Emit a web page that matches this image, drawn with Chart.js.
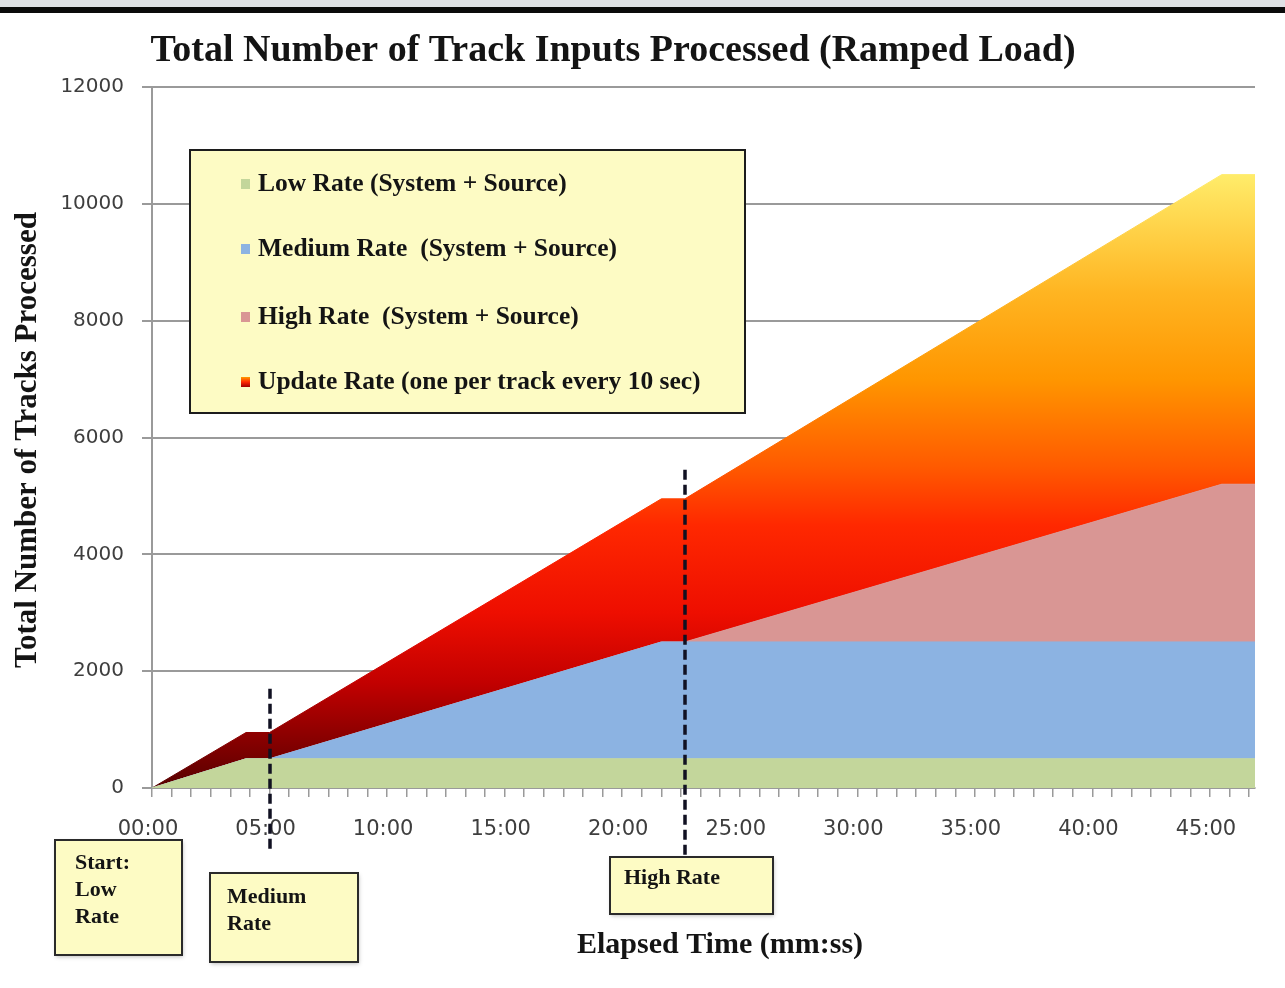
<!DOCTYPE html>
<html>
<head>
<meta charset="utf-8">
<script src="https://cdn.jsdelivr.net/npm/chart.js@4/dist/chart.umd.min.js"></script>
<style>
  html, body { margin: 0; padding: 0; background: #ffffff; overflow: hidden; }
  canvas { display: block; }
</style>
</head>
<body>
<canvas id="chart" width="1285" height="988"></canvas>
<script>
// Elapsed time of each breakpoint, in seconds
const elapsedSeconds = [0, 240, 300, 1300, 1360, 2730, 2815];

// Tracks processed per layer (stacked)
const lowRate    = [0, 500, 500,  500,  500,  500,  500];
const mediumRate = [0,   0,   0, 2000, 2000, 2000, 2000];
const highRate   = [0,   0,   0,    0,    0, 2700, 2700];
const updateRate = [0, 450, 450, 2450, 2450, 5300, 5300];

const seriesLabels = [
  'Low Rate (System + Source)',
  'Medium Rate  (System + Source)',
  'High Rate  (System + Source)',
  'Update Rate (one per track every 10 sec)'
];

// Axis ticks
const yTickValues = [0, 2000, 4000, 6000, 8000, 10000, 12000];
const xLabelSeconds = [0, 300, 600, 900, 1200, 1500, 1800, 2100, 2400, 2700];

// Phase changes marked on the time axis
const phaseStarts = [300, 1360];
const phaseNotes = [
  { lines: ['Start:', 'Low', 'Rate'] },
  { lines: ['Medium', 'Rate'] },
  { lines: ['High Rate'] }
];

const SERIF = '"Liberation Serif", "Times New Roman", serif';
const fillColors = ['#c3d69b', '#8cb3e2', '#d99694'];

// colour stops of the update layer, by tracks count
const updateStops = [
  [0, '#560000'], [800, '#860000'], [1800, '#c20000'], [3000, '#ee0e00'],
  [4500, '#ff2800'], [5500, '#ff5a00'], [7000, '#ff9600'], [8500, '#ffb522'],
  [10500, '#ffec6a']
];

function mmss(s) {
  const m = Math.floor(s / 60), r = s % 60;
  return String(m).padStart(2, '0') + ':' + String(r).padStart(2, '0');
}

function updateGradient(chart) {
  const y = chart.scales.y;
  const y0 = y.getPixelForValue(0);
  const y1 = y.getPixelForValue(10500);
  const g = chart.ctx.createLinearGradient(0, y0, 0, y1);
  updateStops.forEach(([v, c]) => g.addColorStop(v / 10500, c));
  return g;
}

function layerColor(i) {
  return (ctx) => {
    if (i < 3) return fillColors[i];
    const chart = ctx.chart;
    if (!chart.chartArea) return '#ff3000';
    return updateGradient(chart);
  };
}

const toPoints = vals => elapsedSeconds.map((t, i) => ({ x: t, y: vals[i] }));
const layers = [lowRate, mediumRate, highRate, updateRate];

const datasets = layers.map((vals, i) => ({
  label: seriesLabels[i],
  data: toPoints(vals),
  fill: i === 0 ? 'origin' : '-1',
  backgroundColor: layerColor(i),
  borderColor: layerColor(i),
  borderWidth: 1,
  pointRadius: 0,
  tension: 0
}));

function drawBox(ctx, x, y, w, h, fill, stroke, lw) {
  ctx.save();
  ctx.fillStyle = fill;
  ctx.fillRect(x, y, w, h);
  ctx.strokeStyle = stroke;
  ctx.lineWidth = lw;
  ctx.strokeRect(x, y, w, h);
  ctx.restore();
}

const decorations = {
  id: 'decorations',
  beforeDraw(chart) {
    const ctx = chart.ctx;
    ctx.save();
    ctx.fillStyle = '#ffffff';
    ctx.fillRect(0, 0, chart.width, chart.height);
    ctx.fillStyle = '#dfe1e5';
    ctx.fillRect(0, 0, chart.width, 7);
    ctx.fillStyle = '#0b0b0b';
    ctx.fillRect(0, 7, chart.width, 6);
    ctx.restore();
  },
  afterDatasetsDraw(chart) {
    const ctx = chart.ctx;
    const x = chart.scales.x, y = chart.scales.y;

    // phase change markers
    const marks = [
      { t: phaseStarts[0], top: y.getPixelForValue(1700), bottom: y.bottom + 62 },
      { t: phaseStarts[1], top: y.getPixelForValue(5450), bottom: y.bottom + 68 }
    ];
    ctx.save();
    ctx.strokeStyle = '#111122';
    ctx.lineWidth = 3.5;
    ctx.setLineDash([10, 5]);
    marks.forEach(m => {
      const px = Math.round(x.getPixelForValue(m.t));
      ctx.beginPath();
      ctx.moveTo(px, m.top);
      ctx.lineTo(px, m.bottom);
      ctx.stroke();
    });
    ctx.restore();

    // legend
    const lx = 190, ly = 150, lw = 555, lh = 263;
    drawBox(ctx, lx, ly, lw, lh, '#fdfbc4', '#1c1c1c', 2);
    const rowY = [184, 249, 317, 382];
    ctx.save();
    ctx.font = 'bold 25.5px ' + SERIF;
    ctx.textBaseline = 'middle';
    ctx.textAlign = 'left';
    rowY.forEach((ry, i) => {
      if (i < 3) {
        ctx.fillStyle = fillColors[i];
      } else {
        const g = ctx.createLinearGradient(0, ry + 5, 0, ry - 5);
        g.addColorStop(0, '#a00000');
        g.addColorStop(0.5, '#ff2800');
        g.addColorStop(1, '#ff9a00');
        ctx.fillStyle = g;
      }
      ctx.fillRect(241, ry - 5, 9, 10);
      ctx.fillStyle = '#141414';
      ctx.fillText(chart.data.datasets[i].label, 258, ry);
    });
    ctx.restore();
  },
  afterDraw(chart) {
    const ctx = chart.ctx;

    // chart title
    ctx.save();
    ctx.fillStyle = '#141414';
    ctx.textBaseline = 'middle';
    ctx.textAlign = 'center';
    ctx.font = 'bold 38px ' + SERIF;
    ctx.fillText('Total Number of Track Inputs Processed (Ramped Load)', 613, 51);

    // axis titles
    ctx.font = 'bold 30px ' + SERIF;
    ctx.fillText('Elapsed Time (mm:ss)', 720, 945);
    ctx.translate(28, 440);
    ctx.rotate(-Math.PI / 2);
    ctx.font = 'bold 31px ' + SERIF;
    ctx.fillText('Total Number of Tracks Processed', 0, 0);
    ctx.restore();

    // phase notes below the axis
    const boxes = [
      { x: 55,  y: 840, w: 127, h: 115, tx: 75,  ty: [863, 890, 917] },
      { x: 210, y: 873, w: 148, h: 89,  tx: 227, ty: [897, 924] },
      { x: 610, y: 857, w: 163, h: 57,  tx: 624, ty: [878] }
    ];
    boxes.forEach((b, i) => {
      ctx.save();
      ctx.shadowColor = 'rgba(0,0,0,0.25)';
      ctx.shadowBlur = 4;
      ctx.shadowOffsetX = 1;
      ctx.shadowOffsetY = 2;
      ctx.fillStyle = '#fdfbc4';
      ctx.fillRect(b.x, b.y, b.w, b.h);
      ctx.restore();
      drawBox(ctx, b.x, b.y, b.w, b.h, '#fdfbc4', '#2a2a2a', 2);
      ctx.save();
      ctx.fillStyle = '#141414';
      ctx.font = 'bold 22px ' + SERIF;
      ctx.textBaseline = 'middle';
      ctx.textAlign = 'left';
      phaseNotes[i].lines.forEach((ln, k) => ctx.fillText(ln, b.tx, b.ty[k]));
      ctx.restore();
    });
  }
};

new Chart(document.getElementById('chart'), {
  type: 'line',
  data: { datasets },
  plugins: [decorations],
  options: {
    responsive: false,
    animation: false,
    devicePixelRatio: 1,
    layout: { padding: { top: 87, right: 30, left: 0, bottom: 0 } },
    plugins: {
      legend: { display: false },
      title: { display: false },
      tooltip: { enabled: false }
    },
    scales: {
      x: {
        type: 'linear',
        min: elapsedSeconds[0],
        max: elapsedSeconds[elapsedSeconds.length - 1],
        afterFit(s) { s.height = 200; },
        ticks: {
          stepSize: 50,
          autoSkip: false,
          includeBounds: false,
          maxRotation: 0,
          minRotation: 0,
          padding: 20,
          labelOffset: -4,
          color: '#3e3e3e',
          font: { family: '"DejaVu Sans", sans-serif', size: 21 },
          callback: v => xLabelSeconds.includes(v) ? mmss(v) : ''
        },
        grid: { drawOnChartArea: false, drawTicks: true, tickLength: 9, color: '#9a9a9a', lineWidth: 1.5 },
        border: { color: '#9a9a9a', width: 2 }
      },
      y: {
        stacked: true,
        min: yTickValues[0],
        max: yTickValues[yTickValues.length - 1],
        afterFit(s) { s.width = 152; },
        afterBuildTicks(s) { s.ticks = yTickValues.map(v => ({ value: v })); },
        ticks: {
          padding: 18,
          color: '#3e3e3e',
          font: { family: '"DejaVu Sans", sans-serif', size: 20 },
          callback: v => String(v)
        },
        grid: { color: '#9a9a9a', lineWidth: 2, tickLength: 10 },
        border: { color: '#9a9a9a', width: 2 }
      }
    }
  }
});
</script>
</body>
</html>
